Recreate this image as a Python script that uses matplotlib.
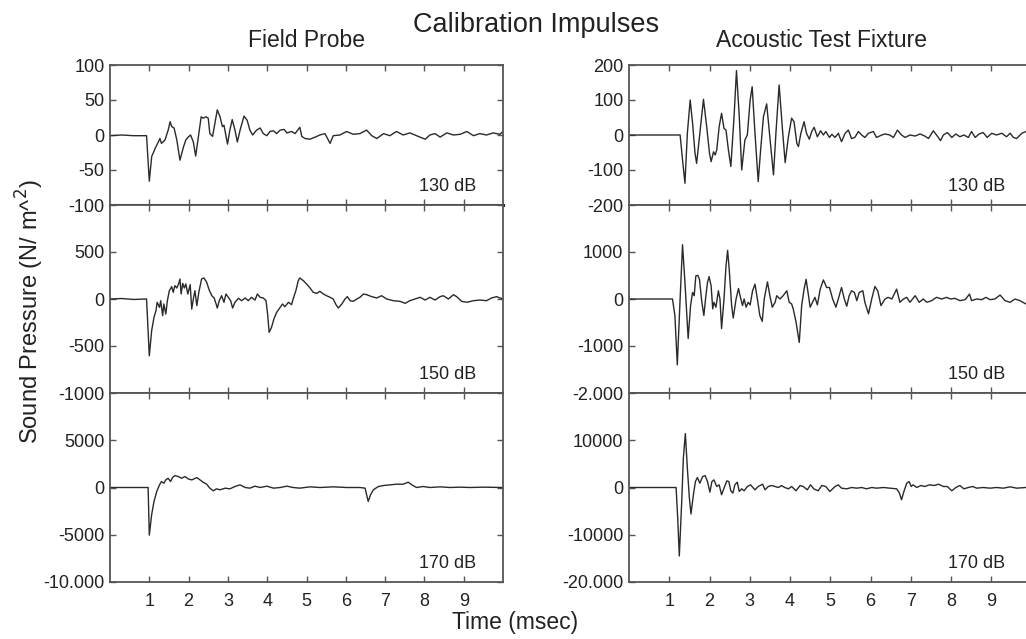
import numpy as np
import matplotlib
matplotlib.use('Agg')
import matplotlib.pyplot as plt

plt.rcParams['font.family'] = ['Liberation Sans', 'DejaVu Sans']

# ---- data (time in msec, pressure in N/m^2) ----
# field probe, 130 dB
fp130_t = [0, 0.3, 0.6, 0.93, 1.00, 1.06, 1.15, 1.23, 1.27, 1.31, 1.40, 1.48, 1.53, 1.57, 1.63, 1.70,
           1.78, 1.87, 1.93, 1.99, 2.05, 2.12, 2.18, 2.25, 2.32, 2.37, 2.44, 2.50, 2.54, 2.61, 2.67,
           2.73, 2.80, 2.86, 2.90, 2.99, 3.05, 3.11, 3.18, 3.24, 3.31, 3.41, 3.49, 3.56, 3.63, 3.73,
           3.82, 3.90, 3.99, 4.07, 4.16, 4.24, 4.33, 4.43, 4.50, 4.62, 4.71, 4.83, 4.88, 4.96, 5.09,
           5.22, 5.34, 5.47, 5.60, 5.68, 5.85, 6.02, 6.19, 6.36, 6.53, 6.66, 6.79, 6.96, 7.12, 7.29,
           7.46, 7.63, 7.80, 8.02, 8.14, 8.27, 8.40, 8.57, 8.74, 8.91, 9.08, 9.25, 9.41, 9.58, 9.75,
           9.92, 10.0]
fp130_p = [-1, 0, -1, -1, -66, -31, -19, -10, -5, -12, -7, 7, 19, 12, 10, -7,
           -36, -17, -7, -3, 0, -10, -30, -2, 26, 24, 26, 24, 2, -2, 17,
           36, 26, 12, 14, -13, 7, 22, 7, -10, 7, 27, 21, 7, 0, 7,
           10, 2, -1, 5, 6, 2, 7, 8, 3, 5, 2, 11, -2, -5, -6,
           -3, 0, 2, -12, -1, 0, 5, 1, 2, 7, -1, -5, 2, -1, 5,
           0, 3, -1, -6, 0, 2, -3, 3, 0, 1, 5, -1, 2, 0, 3,
           1, 5]

# field probe, 150 dB
fp150_t = [0, 0.3, 0.6, 0.93, 1.00, 1.06, 1.12, 1.17, 1.20, 1.26, 1.29, 1.34, 1.37, 1.42, 1.46, 1.51,
           1.57, 1.61, 1.65, 1.70, 1.75, 1.78, 1.81, 1.85, 1.89, 1.93, 1.98, 2.04, 2.08, 2.12, 2.16,
           2.21, 2.26, 2.33, 2.39, 2.46, 2.53, 2.59, 2.65, 2.70, 2.73, 2.78, 2.84, 2.90, 2.95, 3.01,
           3.07, 3.12, 3.18, 3.27, 3.35, 3.44, 3.52, 3.60, 3.69, 3.75, 3.82, 3.90, 3.97, 4.01, 4.05,
           4.11, 4.17, 4.24, 4.33, 4.39, 4.45, 4.54, 4.62, 4.66, 4.73, 4.79, 4.83, 4.92, 5.00, 5.09,
           5.17, 5.26, 5.34, 5.43, 5.51, 5.60, 5.68, 5.75, 5.81, 5.90, 5.98, 6.04, 6.11, 6.19, 6.28,
           6.36, 6.45, 6.53, 6.66, 6.79, 6.91, 7.04, 7.21, 7.38, 7.51, 7.63, 7.76, 7.89, 8.02, 8.14,
           8.27, 8.40, 8.48, 8.61, 8.74, 8.82, 8.95, 9.08, 9.25, 9.41, 9.58, 9.71, 9.84, 9.92, 10.0]
fp150_p = [0, 5, -5, 0, -604, -337, -195, -124, -35, -89, -18, -177, -53, -160, -18, 89,
           131, 71, 142, 117, 167, 213, 53, 167, 117, 160, 53, 153, -107, 0, 89,
           -71, 71, 213, 224, 178, 89, 35, 11, -53, -96, -18, 35, -35, 53, 18,
           -18, -96, -35, 7, -18, 11, -18, 18, -11, 53, 18, 11, -18, -160, -355,
           -302, -213, -142, -89, -53, -82, -35, -60, 0, 89, 195, 224, 195, 160, 117,
           71, 60, 82, 53, 35, 18, 0, -60, -96, -53, 0, 25, -18, -25, 0,
           18, 53, 46, 25, 11, 35, 0, -18, -25, -46, -18, 0, 18, -11, 18,
           -11, 25, 35, 0, 46, 25, -25, -35, -18, -11, -18, 11, 25, 11, 0]

# field probe, 170 dB
fp170_t = [0, 0.97, 1.00, 1.06, 1.12, 1.19, 1.26, 1.31, 1.37, 1.42, 1.48, 1.54, 1.59, 1.65, 1.74, 1.82,
           1.91, 1.99, 2.08, 2.21, 2.29, 2.37, 2.46, 2.54, 2.63, 2.71, 2.80, 2.93, 3.05, 3.18, 3.31,
           3.44, 3.56, 3.69, 3.82, 3.99, 4.16, 4.33, 4.50, 4.66, 4.83, 5.09, 5.34, 5.68, 6.02, 6.36,
           6.49, 6.53, 6.57, 6.63, 6.70, 6.83, 6.96, 7.13, 7.29, 7.46, 7.59, 7.68, 7.80, 7.97, 8.14,
           8.40, 8.65, 8.91, 9.16, 9.50, 10.0]
fp170_p = [0, 0, -5040, -2870, -1470, -420, 280, 630, 455, 805, 980, 630, 1050, 1260, 1155, 980,
           1155, 910, 805, 1050, 805, 560, 350, -70, -350, -140, -245, -70, -140, 105, 280,
           0, -70, 140, 0, 140, -70, 0, 140, 0, -70, 70, 0, 70, 0, 0,
           -70, -770, -1470, -770, -245, 105, 210, 280, 350, 350, 560, 280, 0, 105, 0,
           70, 0, 35, 0, 35, 0]

# acoustic test fixture, 130 dB
atf130_t = [0, 0.6, 1.27, 1.33, 1.39, 1.45, 1.52, 1.58, 1.64, 1.68, 1.76, 1.85, 1.93, 2.00, 2.04, 2.10,
            2.14, 2.18, 2.24, 2.30, 2.36, 2.41, 2.47, 2.53, 2.61, 2.67, 2.74, 2.80, 2.88, 2.94, 3.01,
            3.06, 3.13, 3.21, 3.27, 3.34, 3.42, 3.49, 3.59, 3.65, 3.73, 3.82, 3.88, 3.96, 4.04, 4.10,
            4.17, 4.21, 4.27, 4.35, 4.41, 4.48, 4.54, 4.60, 4.68, 4.76, 4.83, 4.89, 4.98, 5.04, 5.12,
            5.20, 5.28, 5.37, 5.45, 5.53, 5.61, 5.70, 5.78, 5.86, 5.95, 6.07, 6.15, 6.28, 6.36, 6.48,
            6.57, 6.67, 6.77, 6.86, 6.98, 7.11, 7.23, 7.35, 7.44, 7.56, 7.66, 7.74, 7.81, 7.91, 8.02,
            8.12, 8.22, 8.32, 8.43, 8.51, 8.60, 8.70, 8.80, 8.90, 9.01, 9.13, 9.26, 9.38, 9.47, 9.55,
            9.63, 9.76, 9.86, 10.0]
atf130_p = [0, 0, 0, -71, -138, 5, 100, 33, -52, -81, 5, 102, 24, -52, -76, -48,
            -57, -43, 24, 62, 19, 14, -43, -90, 52, 184, 52, -100, -14, 0, 100,
            138, 5, -133, -43, 52, 89, 5, -114, 5, 143, 5, -79, -5, 48, 38,
            -24, -33, 5, 38, 5, -12, 10, 22, -5, 12, 0, 10, -7, 2, -7,
            5, -19, 5, 14, -10, -7, 10, 0, -7, 5, 10, -7, 0, 3, 0,
            -7, 14, 0, -7, 0, -3, 3, -3, -10, 12, -3, -16, 0, 7, -7,
            3, -5, 0, -7, 10, -7, 3, 7, -7, 5, 0, 5, -5, 5, -7,
            -10, 5, 10, 5]

# acoustic test fixture, 150 dB
atf150_t = [0, 0.5, 1.08, 1.14, 1.20, 1.27, 1.33, 1.39, 1.47, 1.53, 1.58, 1.62, 1.66, 1.71, 1.75, 1.81,
            1.86, 1.91, 1.95, 1.99, 2.04, 2.08, 2.11, 2.16, 2.22, 2.26, 2.30, 2.36, 2.41, 2.45, 2.49,
            2.55, 2.59, 2.66, 2.72, 2.76, 2.82, 2.86, 2.91, 2.96, 3.01, 3.07, 3.13, 3.19, 3.25, 3.31,
            3.36, 3.44, 3.50, 3.56, 3.63, 3.67, 3.75, 3.83, 3.92, 3.98, 4.04, 4.08, 4.15, 4.23, 4.29,
            4.35, 4.40, 4.46, 4.50, 4.56, 4.62, 4.68, 4.75, 4.83, 4.91, 4.98, 5.06, 5.14, 5.20, 5.28,
            5.35, 5.41, 5.47, 5.53, 5.60, 5.66, 5.72, 5.81, 5.86, 5.95, 6.03, 6.11, 6.18, 6.26, 6.36,
            6.44, 6.53, 6.65, 6.73, 6.82, 6.90, 6.98, 7.11, 7.21, 7.31, 7.40, 7.52, 7.64, 7.77, 7.89,
            7.99, 8.10, 8.22, 8.35, 8.46, 8.51, 8.64, 8.76, 8.87, 8.97, 9.09, 9.22, 9.34, 9.47, 9.59,
            9.71, 9.86, 10.0]
atf150_p = [0, 0, 0, -350, -1400, 0, 1155, 350, -840, -140, 140, 70, 490, 504, 420, -70,
            -350, 70, 350, 476, 280, -210, -70, -175, 175, 0, -630, 0, 700, 1036, 630,
            -140, -406, 0, 224, 70, -140, 0, -175, -70, -126, 175, 315, 0, -350, -476,
            0, 364, 70, -175, -70, 70, 0, 70, 175, -70, -105, -210, -490, -924, -140,
            210, 420, 70, -175, -70, 35, -126, 210, 406, 245, 245, 0, -175, 0, 245,
            0, -154, 70, 175, 140, -35, 140, 175, -70, -315, 0, 266, 175, -140, 0,
            35, 0, 210, -70, 0, 35, -70, 70, -70, 0, -70, -35, 35, 0, 35,
            0, 14, -35, -14, 105, -35, 0, -14, 35, -14, 0, 84, -35, -70, 0,
            -35, -105, -105]

# acoustic test fixture, 170 dB
atf170_t = [0, 0.6, 1.17, 1.21, 1.25, 1.31, 1.35, 1.40, 1.45, 1.50, 1.54, 1.60, 1.65, 1.70, 1.76, 1.83,
            1.89, 1.95, 2.01, 2.06, 2.11, 2.18, 2.24, 2.30, 2.36, 2.43, 2.48, 2.53, 2.58, 2.63, 2.69,
            2.74, 2.80, 2.86, 2.94, 3.02, 3.13, 3.21, 3.32, 3.38, 3.46, 3.54, 3.63, 3.71, 3.79, 3.87,
            3.96, 4.04, 4.15, 4.25, 4.33, 4.43, 4.51, 4.59, 4.70, 4.79, 4.89, 4.99, 5.12, 5.20, 5.28,
            5.41, 5.53, 5.66, 5.78, 5.90, 6.03, 6.15, 6.32, 6.48, 6.65, 6.72, 6.77, 6.83, 6.90, 6.96,
            7.01, 7.06, 7.15, 7.25, 7.35, 7.46, 7.58, 7.69, 7.81, 7.91, 8.02, 8.12, 8.22, 8.32, 8.43,
            8.54, 8.64, 8.80, 8.97, 9.13, 9.30, 9.47, 9.63, 9.86, 10.0]
atf170_p = [0, 0, 0, -6440, -14490, -2940, 6160, 11410, 4060, -2240, -5600, -1540, 1260, 2100, 910, 2310,
            2520, 1260, -980, 1260, 1610, 210, 560, -1540, -140, 1400, 1260, -700, -1190, 560, 1120,
            -840, -280, -700, 210, 560, -490, 210, 700, -490, 210, 420, 210, 0, 420, 0,
            -280, 210, -700, 420, 210, -490, 560, -280, -700, 420, 210, -840, 210, 560, -140,
            -280, 0, -140, 0, -280, 0, -140, 0, -140, -280, -1190, -2600, -840, 910, 1260,
            210, 560, 0, 420, 210, 560, 420, 700, 210, 210, -700, 0, 420, -280, 0,
            210, -140, 0, -140, 0, -140, 140, -140, 0, 0]

traces = [[(fp130_t, fp130_p), (atf130_t, atf130_p)],
          [(fp150_t, fp150_p), (atf150_t, atf150_p)],
          [(fp170_t, fp170_p), (atf170_t, atf170_p)]]
levels = ['130 dB', '150 dB', '170 dB']

left_yticks = [[-100, -50, 0, 50, 100], [-1000, -500, 0, 500, 1000], [-10000, -5000, 0, 5000, 10000]]
left_ylabels = [['-100', '-50', '0', '50', '100'], ['-1000', '-500', '0', '500', ''],
                ['-10.000', '-5000', '0', '5000', '']]
right_yticks = [[-200, -100, 0, 100, 200], [-2000, -1000, 0, 1000, 2000], [-20000, -10000, 0, 10000, 20000]]
right_ylabels = [['-200', '-100', '0', '100', '200'], ['-2.000', '-1000', '0', '1000', ''],
                 ['-20.000', '-10000', '0', '10000', '']]
xticks = [1, 2, 3, 4, 5, 6, 7, 8, 9]

# ---- layout ----
W, H = 1026, 639
fig = plt.figure(figsize=(W / 100, H / 100), dpi=100)
fig.patch.set_facecolor('white')

col_x = [(110, 393), (629, 402.5)]            # left px, width px
row_y = [(65, 205), (205, 393), (393, 582)]   # top px, bottom px

spine_col = '#555555'
text_col = '#222222'
line_col = '#2a2a2a'

for r in range(3):
    for c in range(2):
        x0, w = col_x[c]
        top, bot = row_y[r]
        ax = fig.add_axes([x0 / W, (H - bot) / H, w / W, (bot - top) / H])
        t, p = traces[r][c]
        ax.plot(t, p, color=line_col, lw=1.0)
        ax.set_xlim(0, 10)
        if c == 0:
            ticks, labs = left_yticks[r], left_ylabels[r]
        else:
            ticks, labs = right_yticks[r], right_ylabels[r]
        ax.set_ylim(ticks[0], ticks[-1])
        ax.set_yticks(ticks)
        ax.set_yticklabels(labs)
        ax.set_xticks(xticks)
        if r == 2:
            ax.set_xticklabels([str(v) for v in xticks])
        else:
            ax.set_xticklabels([])
        ax.tick_params(direction='in', top=True, right=True, length=4, width=1.0,
                       color=spine_col, labelsize=13, labelcolor=text_col)
        ax.tick_params(axis='x', pad=8)
        ax.tick_params(axis='y', pad=4)
        for s in ax.spines.values():
            s.set_color(spine_col)
            s.set_linewidth(1.3)
        # the -100 line under the top field probe panel is drawn heavier
        if r == 0 and c == 0:
            ax.spines['bottom'].set_color('#222222')
            ax.spines['bottom'].set_linewidth(2.2)
        ax.annotate(levels[r], xy=(1, 0), xycoords='axes fraction',
                    xytext=(-19, 13), textcoords='offset points',
                    ha='right', va='center', fontsize=13, color=text_col)

fig.text(536 / W, 1 - 32 / H, 'Calibration Impulses', ha='center', va='baseline',
         fontsize=19.5, color=text_col)
fig.text(306 / W, 1 - 47 / H, 'Field Probe', ha='center', va='baseline',
         fontsize=16.5, color=text_col)
fig.text(822 / W, 1 - 47 / H, 'Acoustic Test Fixture', ha='center', va='baseline',
         fontsize=16.5, color=text_col)
fig.text(515 / W, 1 - 622 / H, 'Time (msec)', ha='center', va='center',
         fontsize=16.5, color=text_col)
fig.text(30 / W, 1 - 312 / H, 'Sound Pressure (N/ m^$^2$)', ha='center', va='center',
         rotation=90, fontsize=17, color=text_col)

plt.savefig('out.png', dpi=100, facecolor='white')
